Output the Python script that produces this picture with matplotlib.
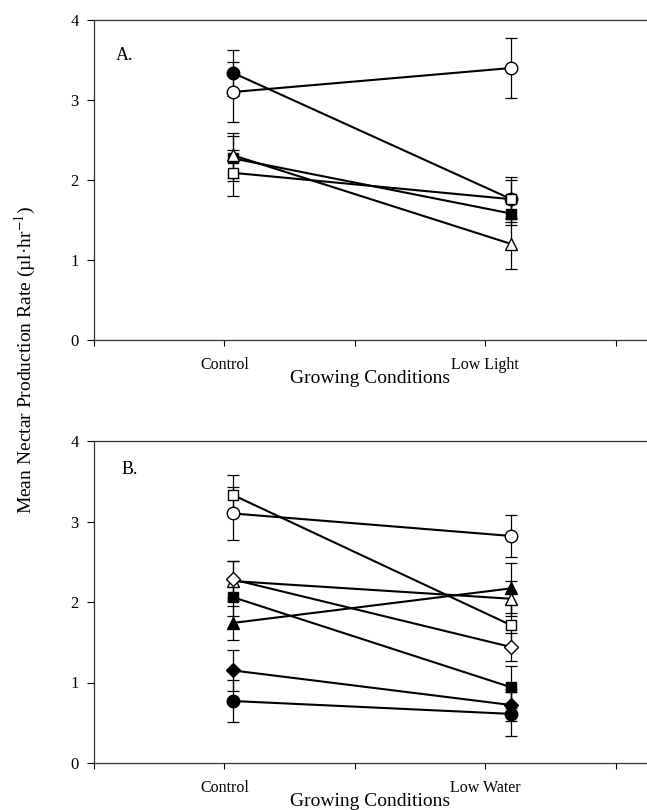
import matplotlib
matplotlib.use("Agg")
import matplotlib.pyplot as plt

plt.rcParams["font.family"] = ["Liberation Serif", "DejaVu Serif"]
plt.rcParams["mathtext.fontset"] = "stix"

# x positions of the two groups (axis units, ticks at 0..4)
group_x = [1.065, 3.2]

# panel A: control vs low light
a_markers = ["o", "o", "s", "s", "^"]
a_filled = [False, True, False, True, False]
a_control = [3.10, 3.34, 2.09, 2.27, 2.31]
a_low = [3.40, 1.76, 1.76, 1.58, 1.20]
a_err_control = [0.38, 0.29, 0.29, 0.28, 0.28]
a_err_low = [0.38, 0.28, 0.24, 0.14, 0.31]

# panel B: control vs low water
b_markers = ["o", "s", "^", "D", "s", "^", "D", "o"]
b_filled = [False, False, False, False, True, True, True, True]
b_control = [3.10, 3.33, 2.26, 2.28, 2.06, 1.74, 1.15, 0.77]
b_low = [2.82, 1.71, 2.04, 1.44, 0.94, 2.17, 0.72, 0.61]
b_err_control = [0.33, 0.25, 0.25, 0.23, 0.24, 0.21, 0.25, 0.26]
b_err_low = [0.26, 0.27, 0.22, 0.17, 0.26, 0.31, 0.20, 0.27]


def draw_panel(ax, letter, letter_x, letter_y, low_label, markers, filled, ctrl, low, err_c, err_l):
    for i in range(len(ctrl)):
        ys = [ctrl[i], low[i]]
        ax.errorbar(group_x, ys, yerr=[err_c[i], err_l[i]], fmt="none",
                    ecolor="black", elinewidth=0.9, capsize=4.5, capthick=0.9, zorder=2)
    for i in range(len(ctrl)):
        ax.plot(group_x, [ctrl[i], low[i]], color="black", lw=1.5, zorder=3)
    for i in range(len(ctrl)):
        ms = 9 if markers[i] in ("o", "^") else 7.8
        if markers[i] == "D":
            ms = 7.2
        ax.plot(group_x, [ctrl[i], low[i]], linestyle="none", marker=markers[i],
                markersize=ms, markerfacecolor="black" if filled[i] else "white",
                markeredgecolor="black", markeredgewidth=1.0, zorder=4 + i * 0.01)

    ax.set_xlim(0, 4.24)
    ax.set_ylim(0, 4)
    ax.set_yticks([0, 1, 2, 3, 4])
    ax.set_xticks([0, 1, 2, 3, 4])
    ax.set_xticklabels(["", "Control", "", low_label, ""], fontsize=11.5)
    ax.tick_params(axis="x", direction="out", length=4, width=0.8, pad=8)
    ax.tick_params(axis="y", direction="out", length=5, width=0.8, labelsize=12, pad=6)
    ax.spines["right"].set_visible(False)
    for s in ("left", "bottom", "top"):
        ax.spines[s].set_linewidth(0.9)
        ax.spines[s].set_color("#333333")
    ax.set_xlabel("Growing Conditions", fontsize=14, labelpad=-2)
    ax.text(letter_x, letter_y, letter, fontsize=13, va="center")


fig = plt.figure(figsize=(6.47, 8.10), dpi=100)
H = 810.0
W = 647.0
ax_a = fig.add_axes([94 / W, 1 - 340 / H, 1 - 94 / W, 320 / H])
ax_b = fig.add_axes([94 / W, 1 - 763 / H, 1 - 94 / W, 322 / H])

draw_panel(ax_a, "A.", 0.17, 3.56, "Low Light", a_markers, a_filled, a_control, a_low,
           a_err_control, a_err_low)
draw_panel(ax_b, "B.", 0.21, 3.64, "Low Water", b_markers, b_filled, b_control, b_low,
           b_err_control, b_err_low)

fig.text(25 / W, 1 - 360 / H, "Mean Nectar Production Rate (µl·hr$^{-1}$)",
         rotation=90, ha="center", va="center", fontsize=14)

fig.savefig("out.png", dpi=100)
